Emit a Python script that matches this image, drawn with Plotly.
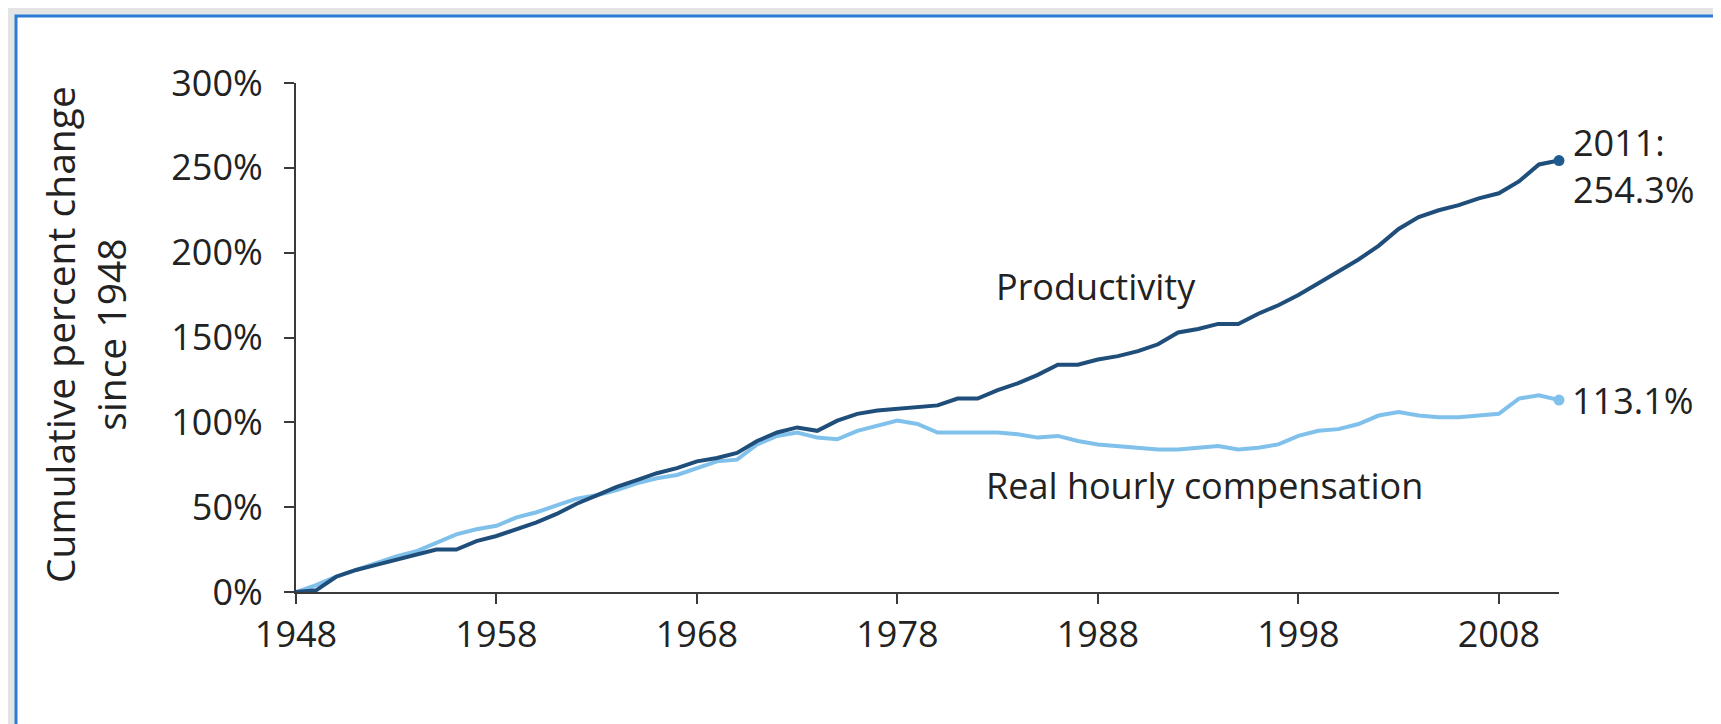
import plotly.graph_objects as go

years = list(range(1948, 2012))

productivity = [0, 1, 9, 13, 16, 19, 22, 25, 25, 30,
                33, 37, 41, 46, 52, 57, 62, 66, 70, 73,
                77, 79, 82, 89, 94, 97, 95, 101, 105, 107,
                108, 109, 110, 114, 114, 119, 123, 128, 134, 134,
                137, 139, 142, 146, 153, 155, 158, 158, 164, 169,
                175, 182, 189, 196, 204, 214, 221, 225, 228, 232,
                235, 242, 252, 254.3]

compensation = [0, 4, 9, 13, 17, 21, 24, 29, 34, 37,
                39, 44, 47, 51, 55, 57, 60, 64, 67, 69,
                73, 77, 78, 87, 92, 94, 91, 90, 95, 98,
                101, 99, 94, 94, 94, 94, 93, 91, 92, 89,
                87, 86, 85, 84, 84, 85, 86, 84, 85, 87,
                92, 95, 96, 99, 104, 106, 104, 103, 103, 104,
                105, 114, 116, 113.1]

x_ticks = [1948, 1958, 1968, 1978, 1988, 1998, 2008]
y_ticks = [0, 50, 100, 150, 200, 250, 300]
y_tick_labels = ["0%", "50%", "100%", "150%", "200%", "250%", "300%"]

DARK = "#1f4e7b"
LIGHT = "#80c1ec"
TEXT = "#222222"
AXIS = "#3a3a3a"
FONT = "Open Sans"

fig = go.Figure()
fig.add_trace(go.Scatter(x=years, y=compensation, mode="lines",
                         line=dict(color=LIGHT, width=4), hoverinfo="skip",
                         showlegend=False))
fig.add_trace(go.Scatter(x=years, y=productivity, mode="lines",
                         line=dict(color=DARK, width=4), hoverinfo="skip",
                         showlegend=False))
fig.add_trace(go.Scatter(x=[years[-1]], y=[compensation[-1]], mode="markers",
                         marker=dict(color=LIGHT, size=11), cliponaxis=False,
                         showlegend=False))
fig.add_trace(go.Scatter(x=[years[-1]], y=[productivity[-1]], mode="markers",
                         marker=dict(color="#1e5b8e", size=11), cliponaxis=False,
                         showlegend=False))

L, R, T, B = 288, 170, 75, 140
W, H = 1721, 724
pw, ph = W - L - R, H - T - B


def px(xp):
    return (xp - L) / pw


def py(yp):
    return (H - B - yp) / ph


fig.add_shape(type="rect", xref="paper", yref="paper",
              x0=px(8), x1=px(1715), y0=py(760), y1=py(8),
              line=dict(color="#2a7bd2", width=3), fillcolor="white",
              layer="below")

ann_font = dict(family=FONT, size=36, color=TEXT)
fig.add_annotation(x=1987.9, y=180, xref="x", yref="y", text="Productivity",
                   showarrow=False, font=ann_font, xanchor="center", yanchor="middle")
fig.add_annotation(x=1993.3, y=63, xref="x", yref="y", text="Real hourly compensation",
                   showarrow=False, font=ann_font, xanchor="center", yanchor="middle")
fig.add_annotation(x=2011, y=251, xref="x", yref="y", xshift=12,
                   text="2011:<br>" + f"{productivity[-1]:.1f}%",
                   showarrow=False, font=ann_font, xanchor="left", yanchor="middle",
                   align="left")
fig.add_annotation(x=2011, y=compensation[-1], xref="x", yref="y", xshift=11,
                   text=f"{compensation[-1]:.1f}%",
                   showarrow=False, font=ann_font, xanchor="left", yanchor="middle",
                   align="left")
fig.add_annotation(x=px(77), y=0.505, xref="paper", yref="paper",
                   text="Cumulative percent change<br>since 1948", textangle=-90,
                   showarrow=False, font=dict(family=FONT, size=39, color=TEXT),
                   xanchor="center", yanchor="middle")

fig.update_xaxes(range=[1948, 2011], tickvals=x_ticks, ticks="outside",
                 ticklen=10, tickwidth=2, tickcolor=AXIS, showline=True,
                 linecolor=AXIS, linewidth=2, showgrid=False, zeroline=False,
                 tickfont=dict(family=FONT, size=36, color=TEXT))
fig.update_yaxes(range=[0, 300], tickvals=y_ticks, ticktext=y_tick_labels,
                 ticks="outside", ticklen=10, tickwidth=2, tickcolor=AXIS,
                 showline=True, linecolor=AXIS, linewidth=2, showgrid=False,
                 zeroline=False, ticklabelstandoff=14,
                 tickfont=dict(family=FONT, size=36, color=TEXT))

fig.update_layout(width=W, height=H, margin=dict(l=L, r=R, t=T, b=B),
                  paper_bgcolor="#e4e4e4", plot_bgcolor="white",
                  font=dict(family=FONT, color=TEXT), showlegend=False)

fig.write_html("out.html")
